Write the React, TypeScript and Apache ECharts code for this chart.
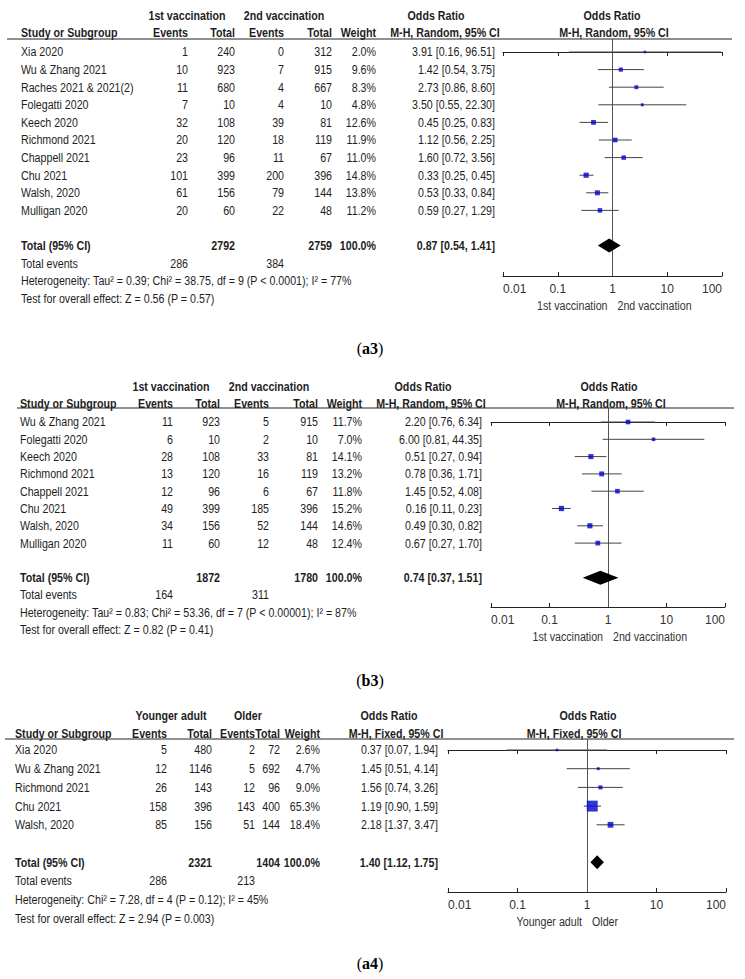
import React, { useEffect, useRef } from "react";
import * as echarts from "echarts";

// ---------- Panel (a3): 1st vs 2nd vaccination, random effects ----------
const a3Studies = ["Xia 2020", "Wu & Zhang 2021", "Raches 2021 & 2021(2)", "Folegatti 2020", "Keech 2020", "Richmond 2021", "Chappell 2021", "Chu 2021", "Walsh, 2020", "Mulligan 2020"];
const a3Events1 = [1, 10, 11, 7, 32, 20, 23, 101, 61, 20];
const a3Total1 = [240, 923, 680, 10, 108, 120, 96, 399, 156, 60];
const a3Events2 = [0, 7, 4, 4, 39, 18, 11, 200, 79, 22];
const a3Total2 = [312, 915, 667, 10, 81, 119, 67, 396, 144, 48];
const a3Weight = [2.0, 9.6, 8.3, 4.8, 12.6, 11.9, 11.0, 14.8, 13.8, 11.2];
const a3OR = [3.91, 1.42, 2.73, 3.5, 0.45, 1.12, 1.6, 0.33, 0.53, 0.59];
const a3Lo = [0.16, 0.54, 0.86, 0.55, 0.25, 0.56, 0.72, 0.25, 0.33, 0.27];
const a3Hi = [96.51, 3.75, 8.6, 22.3, 0.83, 2.25, 3.56, 0.45, 0.84, 1.29];
const a3Totals = [2792, 2759];
const a3TotalEvents = [286, 384];
const a3Pooled = [0.87, 0.54, 1.41];
const a3Groups = ["1st vaccination", "2nd vaccination"];
const a3Method = "M-H, Random, 95% CI";
const a3Het = "Heterogeneity: Tau\u00b2 = 0.39; Chi\u00b2 = 38.75, df = 9 (P < 0.0001); I\u00b2 = 77%";
const a3Overall = "Test for overall effect: Z = 0.56 (P = 0.57)";
const a3Favours = ["1st vaccination", "2nd vaccination"];

// ---------- Panel (b3) ----------
const b3Studies = ["Wu & Zhang 2021", "Folegatti 2020", "Keech 2020", "Richmond 2021", "Chappell 2021", "Chu 2021", "Walsh, 2020", "Mulligan 2020"];
const b3Events1 = [11, 6, 28, 13, 12, 49, 34, 11];
const b3Total1 = [923, 10, 108, 120, 96, 399, 156, 60];
const b3Events2 = [5, 2, 33, 16, 6, 185, 52, 12];
const b3Total2 = [915, 10, 81, 119, 67, 396, 144, 48];
const b3Weight = [11.7, 7.0, 14.1, 13.2, 11.8, 15.2, 14.6, 12.4];
const b3OR = [2.2, 6.0, 0.51, 0.78, 1.45, 0.16, 0.49, 0.67];
const b3Lo = [0.76, 0.81, 0.27, 0.36, 0.52, 0.11, 0.3, 0.27];
const b3Hi = [6.34, 44.35, 0.94, 1.71, 4.08, 0.23, 0.82, 1.7];
const b3Totals = [1872, 1780];
const b3TotalEvents = [164, 311];
const b3Pooled = [0.74, 0.37, 1.51];
const b3Groups = ["1st vaccination", "2nd vaccination"];
const b3Method = "M-H, Random, 95% CI";
const b3Het = "Heterogeneity: Tau\u00b2 = 0.83; Chi\u00b2 = 53.36, df = 7 (P < 0.00001); I\u00b2 = 87%";
const b3Overall = "Test for overall effect: Z = 0.82 (P = 0.41)";
const b3Favours = ["1st vaccination", "2nd vaccination"];

// ---------- Panel (a4) ----------
const a4Studies = ["Xia 2020", "Wu & Zhang 2021", "Richmond 2021", "Chu 2021", "Walsh, 2020"];
const a4Events1 = [5, 12, 26, 158, 85];
const a4Total1 = [480, 1146, 143, 396, 156];
const a4Events2 = [2, 5, 12, 143, 51];
const a4Total2 = [72, 692, 96, 400, 144];
const a4Weight = [2.6, 4.7, 9.0, 65.3, 18.4];
const a4OR = [0.37, 1.45, 1.56, 1.19, 2.18];
const a4Lo = [0.07, 0.51, 0.74, 0.9, 1.37];
const a4Hi = [1.94, 4.14, 3.26, 1.59, 3.47];
const a4Totals = [2321, 1404];
const a4TotalEvents = [286, 213];
const a4Pooled = [1.4, 1.12, 1.75];
const a4Groups = ["Younger adult", "Older"];
const a4Method = "M-H, Fixed, 95% CI";
const a4Het = "Heterogeneity: Chi\u00b2 = 7.28, df = 4 (P = 0.12); I\u00b2 = 45%";
const a4Overall = "Test for overall effect: Z = 2.94 (P = 0.003)";
const a4Favours = ["Younger adult", "Older"];

const tickLabels = ["0.01", "0.1", "1", "10", "100"];

// ---------- layout (positions only) ----------
const a3Layout = { groupY: 16, headY: 33, lineY: 39, lineX0: 7, lineX1: 732, row0: 52, step: 17.6, study: 21, ev1: 188, tot1: 235, ev2: 284, tot2: 332, w: 376, orCol: 495, grp1C: 187, grp2C: 284, orHeadC: 436, orMethodC: 445, plotHeadC: 612, plotMethodC: 614, x0: 503, x1: 722, axisY: 276, footY: 306, captionY: 348, caption: "a3" };
const b3Layout = { groupY: 387, headY: 404, lineY: 408, lineX0: 17, lineX1: 734, row0: 422, step: 17.3, study: 20, ev1: 173, tot1: 220, ev2: 269, tot2: 318, w: 362, orCol: 482, grp1C: 171, grp2C: 269, orHeadC: 423, orMethodC: 431, plotHeadC: 609, plotMethodC: 611, x0: 491, x1: 725, axisY: 607, footY: 637, captionY: 680, caption: "b3" };
const a4Layout = { groupY: 716, headY: 734, lineY: 739, lineX0: 5, lineX1: 734, row0: 750, step: 18.7, study: 15, ev1: 167, tot1: 212, ev2: 255, tot2: 280, w: 320, orCol: 438, grp1C: 171, grp2C: 248, orHeadC: 389, orMethodC: 396, plotHeadC: 588, plotMethodC: 574, x0: 448, x1: 726, axisY: 892, footY: 922, captionY: 963, caption: "a4" };

const FONT = "'Liberation Sans', Arial, sans-serif";
const SERIF = "'Liberation Serif', 'Times New Roman', serif";
const TXT = "#1e1e1e";
const FS = 13.5;
const NARROW = 0.79;

const panels = [
  { studies: a3Studies, ev1: a3Events1, tot1: a3Total1, ev2: a3Events2, tot2: a3Total2, weight: a3Weight, or: a3OR, lo: a3Lo, hi: a3Hi, totals: a3Totals, totalEvents: a3TotalEvents, pooled: a3Pooled, groups: a3Groups, method: a3Method, het: a3Het, overall: a3Overall, favours: a3Favours, L: a3Layout },
  { studies: b3Studies, ev1: b3Events1, tot1: b3Total1, ev2: b3Events2, tot2: b3Total2, weight: b3Weight, or: b3OR, lo: b3Lo, hi: b3Hi, totals: b3Totals, totalEvents: b3TotalEvents, pooled: b3Pooled, groups: b3Groups, method: b3Method, het: b3Het, overall: b3Overall, favours: b3Favours, L: b3Layout },
  { studies: a4Studies, ev1: a4Events1, tot1: a4Total1, ev2: a4Events2, tot2: a4Total2, weight: a4Weight, or: a4OR, lo: a4Lo, hi: a4Hi, totals: a4Totals, totalEvents: a4TotalEvents, pooled: a4Pooled, groups: a4Groups, method: a4Method, het: a4Het, overall: a4Overall, favours: a4Favours, L: a4Layout },
];

function txt(text: string, x: number, y: number, align: string, bold = false, color = TXT, size = FS) {
  return {
    type: "text",
    x,
    y,
    scaleX: NARROW,
    silent: true,
    style: {
      text,
      fill: color,
      fontSize: size,
      fontFamily: FONT,
      fontWeight: bold ? "bold" : "normal",
      align,
      textAlign: align,
      verticalAlign: "middle",
      textVerticalAlign: "middle",
    },
  };
}

function fmtCI(v: number[]) {
  return `${v[0].toFixed(2)} [${v[1].toFixed(2)}, ${v[2].toFixed(2)}]`;
}

function buildOption() {
  const grid: any[] = [];
  const xAxis: any[] = [];
  const yAxis: any[] = [];
  const series: any[] = [];
  const graphic: any[] = [];

  panels.forEach((p, gi) => {
    const L = p.L;
    const n = p.studies.length;
    const rowY = (r: number) => L.row0 + r * L.step;
    const oneX = (L.x0 + L.x1) / 2;

    grid.push({ left: L.x0, top: L.lineY, width: L.x1 - L.x0, height: L.axisY - L.lineY, containLabel: false });

    const baseX = {
      gridIndex: gi,
      type: "log",
      logBase: 10,
      min: 0.01,
      max: 100,
      splitNumber: 4,
      position: "bottom",
      splitLine: { show: false },
      axisLine: { show: true, lineStyle: { color: "#222", width: 1 } },
    };
    xAxis.push({
      ...baseX,
      axisTick: { show: true, inside: false, length: 4, lineStyle: { color: "#222", width: 1 } },
      axisLabel: {
        show: true,
        margin: 7,
        fontSize: 12,
        fontFamily: FONT,
        color: "#333",
        alignMinLabel: "left",
        alignMaxLabel: "right",
        formatter: (v: number) => {
          const idx = Math.round(Math.log10(v)) + 2;
          return tickLabels[idx] ?? String(v);
        },
      },
    });
    xAxis.push({
      ...baseX,
      axisTick: { show: true, inside: true, length: 4, lineStyle: { color: "#222", width: 1 } },
      axisLabel: { show: false },
    });
    yAxis.push({
      gridIndex: gi,
      type: "value",
      inverse: true,
      min: (L.lineY - L.row0) / L.step,
      max: (L.axisY - L.row0) / L.step,
      show: false,
    });

    // CI lines
    series.push({
      type: "custom",
      xAxisIndex: gi * 2,
      yAxisIndex: gi,
      encode: { x: [0, 1], y: 2 },
      data: p.studies.map((_, i) => [p.lo[i], p.hi[i], i]),
      renderItem: (_params: any, api: any) => {
        const a = api.coord([api.value(0), api.value(2)]);
        const b = api.coord([api.value(1), api.value(2)]);
        return { type: "line", shape: { x1: a[0], y1: a[1], x2: b[0], y2: b[1] }, style: { stroke: "#444", lineWidth: 1 } };
      },
      z: 2,
    });
    // squares
    series.push({
      type: "scatter",
      xAxisIndex: gi * 2,
      yAxisIndex: gi,
      symbol: "rect",
      symbolSize: (val: number[]) => Math.max(2.5, 1.35 * Math.sqrt(val[2])),
      itemStyle: { color: "#0000cc" },
      data: p.studies.map((_, i) => [p.or[i], i, p.weight[i]]),
      z: 4,
      markLine: {
        silent: true,
        symbol: ["none", "none"],
        label: { show: false },
        lineStyle: { color: "#555", width: 1, type: "solid" },
        data: [{ xAxis: 1 }],
        z: 1,
      },
    });
    // pooled diamond
    series.push({
      type: "custom",
      xAxisIndex: gi * 2,
      yAxisIndex: gi,
      encode: { x: [0, 1, 2], y: 3 },
      data: [[p.pooled[0], p.pooled[1], p.pooled[2], n + 1]],
      renderItem: (_params: any, api: any) => {
        const c = api.coord([api.value(0), api.value(3)]);
        const l = api.coord([api.value(1), api.value(3)]);
        const r = api.coord([api.value(2), api.value(3)]);
        const h = 7;
        return {
          type: "polygon",
          shape: { points: [[l[0], c[1]], [c[0], c[1] - h], [r[0], c[1]], [c[0], c[1] + h]] },
          style: { fill: "#000" },
        };
      },
      z: 5,
    });

    // ----- table texts -----
    graphic.push(txt(p.groups[0], L.grp1C, L.groupY, "center", true));
    graphic.push(txt(p.groups[1], L.grp2C, L.groupY, "center", true));
    graphic.push(txt("Odds Ratio", L.orHeadC, L.groupY, "center", true));
    graphic.push(txt("Odds Ratio", L.plotHeadC, L.groupY, "center", true));
    graphic.push(txt("Study or Subgroup", L.study, L.headY, "left", true));
    graphic.push(txt("Events", L.ev1, L.headY, "right", true));
    graphic.push(txt("Total", L.tot1, L.headY, "right", true));
    graphic.push(txt("Events", L.ev2, L.headY, "right", true));
    graphic.push(txt("Total", L.tot2, L.headY, "right", true));
    graphic.push(txt("Weight", L.w, L.headY, "right", true));
    graphic.push(txt(p.method, L.orMethodC, L.headY, "center", true));
    graphic.push(txt(p.method, L.plotMethodC, L.headY, "center", true));
    graphic.push({
      type: "line",
      silent: true,
      shape: { x1: L.lineX0, y1: L.lineY, x2: L.lineX1, y2: L.lineY },
      style: { stroke: "#222", lineWidth: 1 },
    });

    p.studies.forEach((s, i) => {
      const y = rowY(i);
      graphic.push(txt(s, L.study, y, "left"));
      graphic.push(txt(String(p.ev1[i]), L.ev1, y, "right"));
      graphic.push(txt(String(p.tot1[i]), L.tot1, y, "right"));
      graphic.push(txt(String(p.ev2[i]), L.ev2, y, "right"));
      graphic.push(txt(String(p.tot2[i]), L.tot2, y, "right"));
      graphic.push(txt(p.weight[i].toFixed(1) + "%", L.w, y, "right"));
      graphic.push(txt(fmtCI([p.or[i], p.lo[i], p.hi[i]]), L.orCol, y, "right"));
    });

    const ty = rowY(n + 1);
    graphic.push(txt("Total (95% CI)", L.study, ty, "left", true));
    graphic.push(txt(String(p.totals[0]), L.tot1, ty, "right", true));
    graphic.push(txt(String(p.totals[1]), L.tot2, ty, "right", true));
    graphic.push(txt("100.0%", L.w, ty, "right", true));
    graphic.push(txt(fmtCI(p.pooled), L.orCol, ty, "right", true));

    const ey = rowY(n + 2);
    graphic.push(txt("Total events", L.study, ey, "left"));
    graphic.push(txt(String(p.totalEvents[0]), L.ev1, ey, "right"));
    graphic.push(txt(String(p.totalEvents[1]), L.ev2, ey, "right"));
    graphic.push(txt(p.het, L.study, rowY(n + 3), "left"));
    graphic.push(txt(p.overall, L.study, rowY(n + 4), "left"));

    // favours labels under axis
    graphic.push(txt(p.favours[0], oneX - 5, L.footY, "right", false, "#333"));
    graphic.push(txt(p.favours[1], oneX + 5, L.footY, "left", false, "#333"));

    // caption
    graphic.push({
      type: "text",
      x: 370,
      y: L.captionY,
      silent: true,
      style: {
        text: `({b|${L.caption}})`,
        fill: "#000",
        fontSize: 16,
        fontFamily: SERIF,
        align: "center",
        textAlign: "center",
        verticalAlign: "middle",
        textVerticalAlign: "middle",
        rich: { b: { fontWeight: "bold", fontSize: 16, fontFamily: SERIF, fill: "#000", color: "#000" } },
      },
    });
  });

  return { animation: false, backgroundColor: "#fff", grid, xAxis, yAxis, series, graphic };
}

export default function App() {
  const ref = useRef<HTMLDivElement>(null);
  useEffect(() => {
    if (!ref.current) return;
    const chart = echarts.init(ref.current, null, { renderer: "svg" });
    chart.setOption(buildOption() as any);
    return () => chart.dispose();
  }, []);
  return <div ref={ref} style={{ position: "absolute", left: 0, top: 0, width: 745, height: 979, background: "#fff" }} />;
}
